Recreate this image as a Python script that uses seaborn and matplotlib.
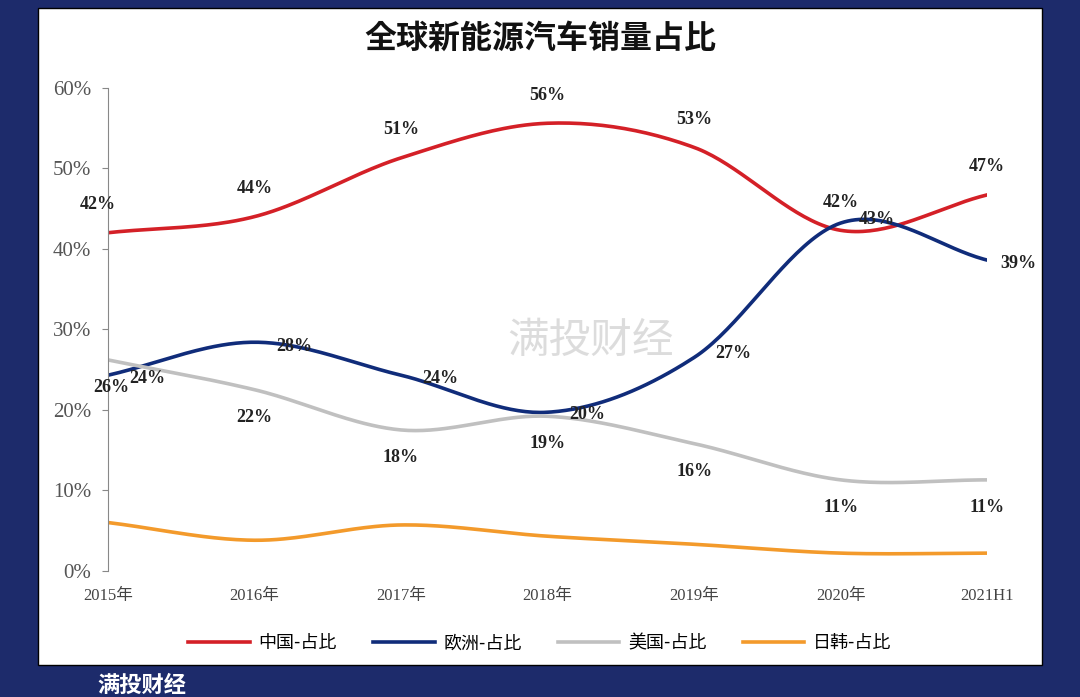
import numpy as np
import pandas as pd
import matplotlib
matplotlib.use("Agg")
import matplotlib.pyplot as plt
import seaborn as sns
from matplotlib.patches import Rectangle
from matplotlib.lines import Line2D

years = ["2015年", "2016年", "2017年", "2018年", "2019年", "2020年", "2021H1"]
china = [42, 44, 51, 56, 53, 42, 47]
europe = [24, 28, 24, 20, 27, 43, 39]
usa = [26, 22, 18, 19, 16, 11, 11]
jpkr = [6, 3.8, 5.7, 4.3, 3.3, 2.2, 2.2]
# points where the drawn curve sits (labels show rounded values)
china_c = [42, 44, 51.3, 55.6, 52.6, 42.3, 46.7]
europe_c = [24.3, 28.4, 24.3, 19.7, 26.5, 43.2, 38.6]
usa_c = [26.2, 22.5, 17.5, 19.2, 15.8, 11.3, 11.3]

series = ["中国-占比", "欧洲-占比", "美国-占比", "日韩-占比"]
colors = ["#d42027", "#102c7a", "#c0c0c0", "#f39a2b"]
CJK = "Noto Sans CJK JP"

def smooth(y, n=40):
    y = np.asarray(y, float)
    p = np.concatenate([[2*y[0]-y[1]], y, [2*y[-1]-y[-2]]])
    xs, ys = [], []
    for i in range(len(y)-1):
        p0, p1, p2, p3 = p[i:i+4]
        t = np.linspace(0, 1, n, endpoint=False)
        v = 0.5*((2*p1) + (-p0+p2)*t + (2*p0-5*p1+4*p2-p3)*t**2 + (-p0+3*p1-3*p2+p3)*t**3)
        xs.append(i+t); ys.append(v)
    xs.append([len(y)-1]); ys.append([y[-1]])
    return np.concatenate(xs), np.concatenate(ys)

frames = []
for name, vals in zip(series, [china_c, europe_c, usa_c, jpkr]):
    x, y = smooth(vals)
    frames.append(pd.DataFrame({"x": x, "y": y, "s": name}))
df = pd.concat(frames)

fig = plt.figure(figsize=(10.8, 6.97), dpi=100)
fig.patch.set_facecolor("#1d2b6b")
fig.patches.append(Rectangle((0.035, 0.046), 0.93, 0.943, transform=fig.transFigure,
                             facecolor="white", edgecolor="black", lw=1, zorder=-10))
ax = fig.add_axes([0.1, 0.181, 0.814, 0.693])
ax.set_facecolor("none")
sns.lineplot(data=df, x="x", y="y", hue="s", palette=colors, ax=ax, lw=2.6,
             sort=False, estimator=None, legend=False)

serif = "Liberation Serif"
lab = dict(fontfamily=serif, fontweight="bold", fontsize=13, color="#222222", ha="center", va="center")
for i, v in enumerate(china):
    y = china_c[i] + 3.5 if i else 45.5
    ax.text(i - (0.07 if i == 0 else 0), y, f"{v}%", **lab)
off_e = [(0.27, -0.4), (0.27, -0.5), (0.27, -0.4), (0.27, -0.3), (0.27, 0.5), (0.25, 0.4), (0.21, -0.4)]
for i, v in enumerate(europe):
    dx, dy = off_e[i]
    ax.text(i+dx, europe_c[i]+dy, f"{v}%", **lab)
for i, v in enumerate(usa):
    ax.text(i + (0.02 if i == 0 else 0), usa_c[i] - 3.4, f"{v}%", **lab)

ax.set_xlim(0, 6)
ax.set_ylim(0, 60)
ax.set_xticks(range(7))
ax.set_xticklabels(years, fontfamily=[serif, CJK], fontsize=12, color="#444444")
ax.set_yticks(range(0, 61, 10))
ax.set_yticklabels([f"{v}%" for v in range(0, 61, 10)], fontfamily=serif, fontsize=15, color="#555555")
ax.tick_params(axis="x", length=0, pad=12)
ax.tick_params(axis="y", length=4, color="#888888", pad=8)
for s in ["top", "right", "bottom"]:
    ax.spines[s].set_visible(False)
ax.spines["left"].set_color("#888888")
ax.set_xlabel(""); ax.set_ylabel("")

fig.text(0.5, 0.945, "全球新能源汽车销量占比", ha="center", va="center",
         fontfamily=CJK, fontweight="bold", fontsize=23, color="#111111")
fig.text(0.47, 0.51, "满投财经", ha="left", va="center", fontfamily=CJK,
         fontsize=30, color="#bbbbbb", alpha=0.5)

handles = [Line2D([], [], color=c, lw=2.6) for c in colors]
fig.legend(handles, series, loc="center", bbox_to_anchor=(0.5, 0.077), ncol=4, frameon=False,
           prop={"family": CJK, "size": 13}, handlelength=3.4, handletextpad=0.5, columnspacing=2.0)
fig.text(0.09, 0.0, "满投财经", ha="left", va="bottom", fontfamily=CJK,
         fontweight="bold", fontsize=16, color="white")

fig.savefig("out.png", dpi=100, facecolor=fig.get_facecolor())
